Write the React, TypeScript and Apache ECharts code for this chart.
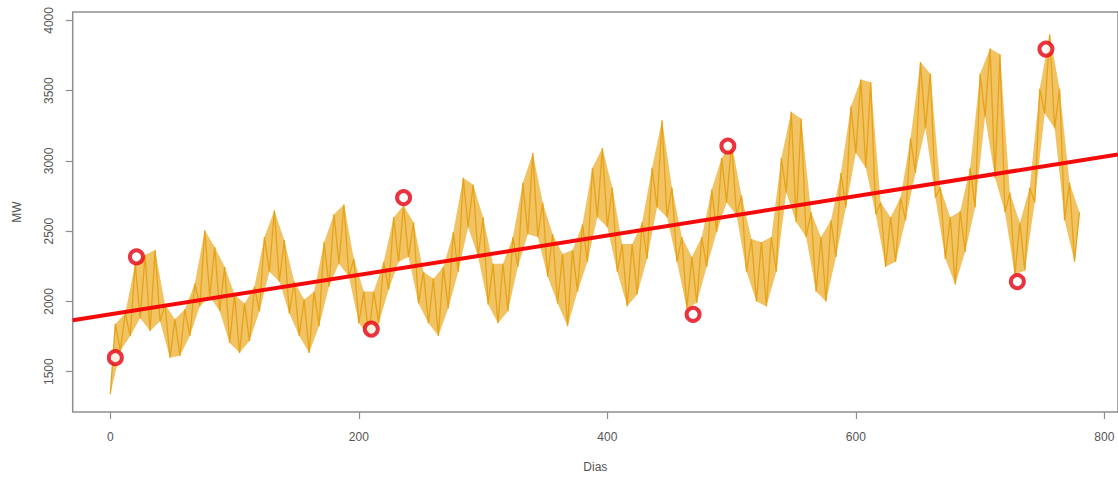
import React, { useEffect, useRef } from "react";
import * as echarts from "echarts";

// Daily demand (MW), one reading every DAY_STEP days
// (alternating bottom / top of the daily band)
const DAY_STEP = 4;
const mw = [
  1340, 1840, 1648, 1915, 1754, 2268, 1880, 2331, 1789, 2366,
  1859, 1979, 1599, 1873, 1613, 1944, 1754, 2127, 1965, 2507,
  2035, 2387, 1930, 2246, 1704, 2049, 1634, 1986, 1718, 2106,
  1930, 2458, 2211, 2648, 2141, 2437, 1915, 2141, 1754, 2014,
  1634, 2070, 1824, 2422, 2106, 2620, 2268, 2690, 2176, 2303,
  1845, 2070, 1754, 2070, 1845, 2282, 2084, 2599, 2282, 2683,
  2317, 2563, 1986, 2211, 1845, 2162, 1754, 2246, 1951, 2493,
  2211, 2880, 2528, 2831, 2317, 2599, 1979, 2268, 1845, 2268,
  1930, 2458, 2246, 2845, 2479, 3056, 2458, 2704, 2176, 2479,
  1986, 2338, 1824, 2366, 2070, 2549, 2282, 2951, 2599, 3092,
  2528, 2810, 2211, 2408, 1965, 2408, 2049, 2563, 2303, 2951,
  2669, 3290, 2599, 2810, 2282, 2458, 1950, 2317, 1990, 2458,
  2246, 2796, 2493, 3021, 2704, 3127, 2613, 2753, 2211, 2444,
  2000, 2422, 1965, 2458, 2211, 3021, 2775, 3350, 2563, 3300,
  2458, 2634, 2070, 2458, 2000, 2577, 2317, 2915, 2669, 3387,
  3056, 3580, 2951, 3560, 2620, 2704, 2246, 2599, 2282, 2739,
  2577, 3162, 2915, 3704, 3232, 3620, 2739, 2810, 2303, 2599,
  2120, 2641, 2352, 2951, 2669, 3620, 3317, 3800, 2880, 3760,
  2634, 2775, 2190, 2560, 2220, 2810, 2704, 3514, 3338, 3901,
  3232, 3514, 2577, 2845, 2282, 2634,
];
const days = mw.map((_, i) => i * DAY_STEP);

// Highlighted points (day, MW)
const markDays = [4, 21, 210, 236, 469, 497, 730, 753];
const markMW = [1600, 2317, 1803, 2739, 1908, 3106, 2141, 3796];

// Linear trend
const trendIntercept = 1908;
const trendSlope = 1.403;

const xTicks = [0, 200, 400, 600, 800];
const yTicks = [1500, 2000, 2500, 3000, 3500, 4000];

const X_MIN = -30.3;
const X_MAX = 811;
const Y_MIN = 1213;
const Y_MAX = 4060;

export default function App() {
  const ref = useRef<HTMLDivElement>(null);
  useEffect(() => {
    if (!ref.current) return;
    const chart = echarts.init(ref.current, null, { renderer: "svg" });
    const font = "'Liberation Sans', Arial, sans-serif";
    const textColor = "#555";
    const boxColor = "#8f8f8f";
    const plain = (v: number) => String(v);
    chart.setOption({
      animation: false,
      backgroundColor: "#ffffff",
      grid: {
        show: true,
        left: 72.7,
        top: 12,
        width: 1049,
        height: 404.7,
        borderColor: boxColor,
        borderWidth: 1.5,
        backgroundColor: "transparent",
      },
      xAxis: {
        type: "value",
        min: X_MIN,
        max: X_MAX,
        name: "Dias",
        nameLocation: "middle",
        nameGap: 49,
        nameTextStyle: { color: textColor, fontSize: 12, fontFamily: font },
        axisLine: { show: false, onZero: false },
        splitLine: { show: false },
        axisTick: {
          show: true,
          customValues: xTicks,
          length: 7,
          lineStyle: { color: boxColor, width: 1.2 },
        },
        axisLabel: {
          customValues: xTicks,
          margin: 19,
          color: textColor,
          fontSize: 12,
          fontFamily: font,
          formatter: plain,
        },
      },
      yAxis: {
        type: "value",
        min: Y_MIN,
        max: Y_MAX,
        name: "MW",
        nameLocation: "middle",
        nameRotate: 90,
        nameGap: 50,
        nameTextStyle: { color: textColor, fontSize: 12, fontFamily: font },
        axisLine: { show: false, onZero: false },
        splitLine: { show: false },
        axisTick: {
          show: true,
          customValues: yTicks,
          length: 7,
          lineStyle: { color: boxColor, width: 1.2 },
        },
        axisLabel: {
          customValues: yTicks,
          rotate: 90,
          margin: 18,
          color: textColor,
          fontSize: 12,
          fontFamily: font,
          formatter: plain,
        },
      },
      series: [
        {
          type: "custom",
          data: [0],
          z: 1,
          silent: true,
          renderItem: (_params: any, api: any) => {
            const pts: number[][] = [];
            pts.push(api.coord([days[0], mw[0]]));
            for (let i = 1; i < mw.length; i += 2) pts.push(api.coord([days[i], mw[i]]));
            for (let i = mw.length - 1; i >= 0; i--) {
              if (i % 2 === 0) pts.push(api.coord([days[i], mw[i]]));
            }
            return {
              type: "polygon",
              shape: { points: pts },
              style: { fill: "#EDB43C", opacity: 0.8 },
            };
          },
        },
        {
          type: "line",
          data: days.map((d, i) => [d, mw[i]]),
          showSymbol: false,
          lineStyle: { color: "#E6A31A", width: 1.3 },
          z: 2,
        },
        {
          type: "line",
          data: [
            [X_MIN, trendIntercept + trendSlope * X_MIN],
            [X_MAX, trendIntercept + trendSlope * X_MAX],
          ],
          showSymbol: false,
          lineStyle: { color: "#F50A0A", width: 4 },
          z: 3,
        },
        {
          type: "scatter",
          data: markDays.map((d, i) => [d, markMW[i]]),
          symbol: "circle",
          symbolSize: 13,
          itemStyle: { color: "#ffffff", borderColor: "#E6000F", borderWidth: 4 },
          z: 4,
        },
      ],
    });
    return () => chart.dispose();
  }, []);
  return (
    <div
      ref={ref}
      style={{ position: "absolute", left: 0, top: 0, width: 1118, height: 478, overflow: "hidden" }}
    />
  );
}
